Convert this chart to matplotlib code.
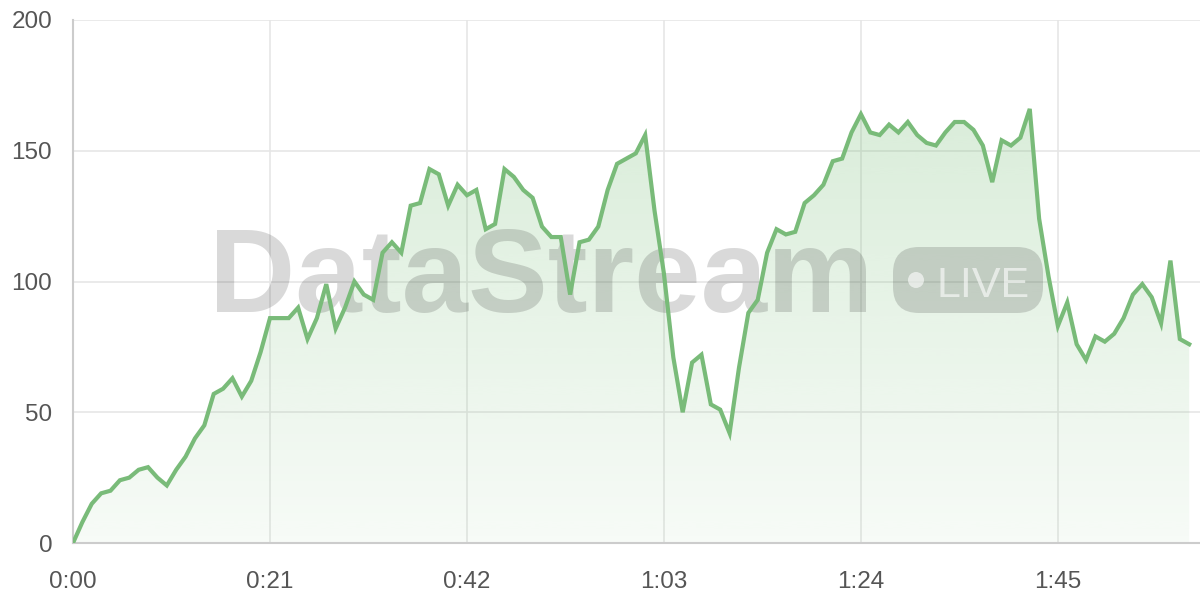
"""DataStream live throughput chart."""

import matplotlib

matplotlib.use("Agg")
import matplotlib.pyplot as plt
import matplotlib.patches as patches
import matplotlib.transforms as mtransforms
import numpy as np

# one sample per second, 0:00 .. 1:59
values = [
    0, 8, 15, 19, 20, 24, 25, 28, 29, 25,
    22, 28, 33, 40, 45, 57, 59, 63, 56, 62,
    73, 86, 86, 86, 90, 78, 86, 99, 82, 90,
    100, 95, 93, 111, 115, 111, 129, 130, 143, 141,
    129, 137, 133, 135, 120, 122, 143, 140, 135, 132,
    121, 117, 117, 95, 115, 116, 121, 135, 145, 147,
    149, 156, 127, 103, 71, 50, 69, 72, 53, 51,
    42, 67, 88, 93, 111, 120, 118, 119, 130, 133,
    137, 146, 147, 157, 164, 157, 156, 160, 157, 161,
    156, 153, 152, 157, 161, 161, 158, 152, 138, 154,
    152, 155, 166, 124, 102, 83, 92, 76, 70, 79,
    77, 80, 86, 95, 99, 94, 84, 108, 78, 76,
]
seconds = np.arange(len(values))
x_ticks = [0, 21, 42, 63, 84, 105]
y_ticks = [0, 50, 100, 150, 200]

LINE = "#79bb79"
GRID = "#e6e6e6"
AXIS = "#cccccc"
LABEL = "#555555"

plt.rcParams["font.family"] = ["Liberation Sans", "DejaVu Sans"]

fig = plt.figure(figsize=(12, 6), dpi=100)
ax = fig.add_axes([73 / 1200, 57 / 600, 1127 / 1200, 523 / 600])
ax.set_xlim(0, 120.15)
ax.set_ylim(0, 200)

# gradient fill under the line
fill = ax.fill_between(seconds, values, 0, color="none", lw=0)
grad = np.zeros((256, 1, 4))
grad[:, 0, 0] = 120 / 255
grad[:, 0, 1] = 190 / 255
grad[:, 0, 2] = 120 / 255
grad[:, 0, 3] = np.linspace(0.32, 0.06, 256)
img = ax.imshow(grad, extent=[0, seconds[-1], 0, 200], aspect="auto",
                origin="upper", zorder=1, interpolation="bicubic")
img.set_clip_path(fill.get_paths()[0], transform=ax.transData)

ax.plot(seconds, values, color=LINE, lw=3, zorder=4, solid_joinstyle="miter")

# grid and axes
ax.set_xticks(x_ticks, [f"{s // 60}:{s % 60:02d}" for s in x_ticks])
ax.set_yticks(y_ticks)
ax.grid(True, color=GRID, lw=1.2, zorder=0)
ax.set_axisbelow(True)
for side in ("top", "right"):
    ax.spines[side].set_visible(False)
ax.spines["left"].set_color(AXIS)
ax.spines["bottom"].set_color(AXIS)
ax.spines["left"].set_linewidth(1.5)
ax.spines["bottom"].set_linewidth(1.5)
ax.tick_params(axis="both", length=0, labelsize=17.5, labelcolor=LABEL)
ax.tick_params(axis="y", pad=15)
ax.tick_params(axis="x", pad=20)

# watermark, placed in pixel coordinates (origin top-left)
px = mtransforms.Affine2D().scale(1 / 1200, -1 / 600).translate(0, 1) + fig.transFigure
ax.text(209, 312, "DataStream", transform=px, ha="left", va="baseline",
        fontsize=86, fontweight="bold", color="black", alpha=0.15,
        zorder=3, clip_on=False)
pill = patches.FancyBboxPatch((893, 247), 150, 66,
                              boxstyle="round,pad=0,rounding_size=26",
                              transform=px, fc="black", ec="none",
                              alpha=0.15, zorder=3, clip_on=False)
ax.add_patch(pill)
dot = patches.Circle((916, 280), 8, transform=px, fc="white", ec="none",
                     alpha=0.6, zorder=3.5, clip_on=False)
ax.add_patch(dot)
ax.text(937, 297, "LIVE", transform=px, ha="left", va="baseline",
        fontsize=31, color="white", alpha=0.6, zorder=3.5, clip_on=False)

fig.savefig("out.png", dpi=100)
